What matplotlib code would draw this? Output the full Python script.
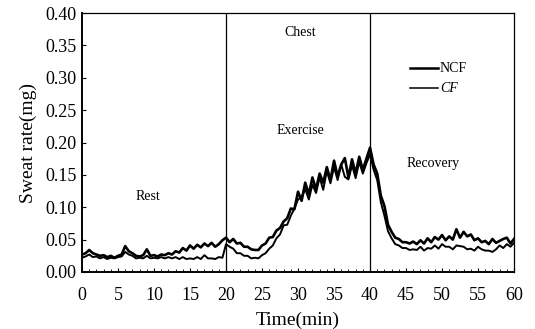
import matplotlib
matplotlib.use('Agg')
import matplotlib.pyplot as plt
from matplotlib.ticker import MultipleLocator
import numpy as np

# time axis, 0.5 min steps
time_min = [i * 0.5 for i in range(121)]

ncf = [0.027, 0.029, 0.034, 0.029, 0.027, 0.025, 0.026, 0.023, 0.025, 0.022,
       0.025, 0.027, 0.040, 0.032, 0.029, 0.025, 0.024, 0.026, 0.035, 0.025,
       0.026, 0.024, 0.027, 0.026, 0.029, 0.027, 0.032, 0.030, 0.037, 0.033,
       0.041, 0.036, 0.042, 0.038, 0.044, 0.040, 0.045, 0.039, 0.043, 0.049,
       0.053, 0.046, 0.051, 0.044, 0.045, 0.039, 0.039, 0.035, 0.034, 0.034,
       0.041, 0.044, 0.053, 0.054, 0.064, 0.068, 0.078, 0.083, 0.098, 0.097,
       0.124, 0.110, 0.138, 0.120, 0.146, 0.128, 0.152, 0.138, 0.162, 0.142,
       0.172, 0.148, 0.166, 0.176, 0.146, 0.174, 0.152, 0.178, 0.158, 0.175,
       0.192, 0.166, 0.152, 0.118, 0.102, 0.073, 0.062, 0.053, 0.051, 0.046,
       0.046, 0.044, 0.047, 0.043, 0.049, 0.044, 0.052, 0.046, 0.054, 0.050,
       0.057, 0.049, 0.055, 0.050, 0.066, 0.053, 0.062, 0.055, 0.058, 0.049,
       0.052, 0.046, 0.048, 0.043, 0.051, 0.045, 0.048, 0.051, 0.053, 0.044,
       0.051]

cf = [0.022, 0.024, 0.027, 0.023, 0.024, 0.021, 0.023, 0.020, 0.022, 0.021,
      0.023, 0.024, 0.031, 0.027, 0.025, 0.021, 0.022, 0.021, 0.025, 0.021,
      0.022, 0.021, 0.023, 0.021, 0.023, 0.021, 0.023, 0.020, 0.023, 0.020,
      0.021, 0.020, 0.023, 0.020, 0.026, 0.021, 0.021, 0.020, 0.023, 0.022,
      0.043, 0.039, 0.036, 0.029, 0.029, 0.025, 0.025, 0.021, 0.022, 0.021,
      0.026, 0.029, 0.036, 0.041, 0.052, 0.058, 0.072, 0.073, 0.087, 0.098,
      0.112, 0.116, 0.128, 0.112, 0.135, 0.122, 0.146, 0.127, 0.156, 0.137,
      0.162, 0.142, 0.166, 0.147, 0.143, 0.165, 0.145, 0.170, 0.152, 0.168,
      0.182, 0.158, 0.142, 0.108, 0.087, 0.063, 0.052, 0.043, 0.041, 0.037,
      0.037, 0.034, 0.035, 0.034, 0.039, 0.033, 0.037, 0.036, 0.041, 0.036,
      0.043, 0.039, 0.039, 0.035, 0.041, 0.040, 0.039, 0.035, 0.036, 0.033,
      0.039, 0.035, 0.033, 0.033, 0.031, 0.035, 0.041, 0.037, 0.043, 0.039,
      0.045]

phase_lines = [20, 40]

plt.rcParams['font.family'] = 'Liberation Serif'

fig = plt.figure(figsize=(5.35, 3.29), dpi=100)
ax = fig.add_axes([0.1533, 0.1733, 0.8075, 0.787])

ax.plot(time_min, ncf, color='black', lw=1.9)
ax.plot(time_min, cf, color='black', lw=1.4)
for x in phase_lines:
    ax.axvline(x, color='black', lw=0.9)

ax.set_xlim(0, 60)
ax.set_ylim(0, 0.40)
ax.xaxis.set_major_locator(MultipleLocator(5))
ax.xaxis.set_minor_locator(MultipleLocator(1))
ax.yaxis.set_major_locator(MultipleLocator(0.05))
ax.yaxis.set_major_formatter(matplotlib.ticker.FormatStrFormatter('%.2f'))
ax.tick_params(axis='both', which='both', direction='in', labelsize=13)
ax.tick_params(which='major', length=3)
ax.tick_params(which='minor', length=2)
ax.tick_params(axis='x', pad=11)
ax.tick_params(axis='y', pad=4)

for s in ['left', 'bottom']:
    ax.spines[s].set_linewidth(1.4)
for s in ['top', 'right']:
    ax.spines[s].set_linewidth(0.9)

ax.set_xlabel('Time(min)', fontsize=14, labelpad=5)
ax.set_ylabel('Sweat rate(mg)', fontsize=14, labelpad=6)

ax.text(9.2, 0.117, 'Rest', fontsize=10, ha='center', va='center')
ax.text(30.3, 0.37, 'Chest', fontsize=10, ha='center', va='center')
ax.text(30.3, 0.219, 'Exercise', fontsize=10, ha='center', va='center')
ax.text(48.8, 0.168, 'Recovery', fontsize=10, ha='center', va='center')

ax.plot([45.5, 49.5], [0.315, 0.315], color='black', lw=1.8)
ax.text(49.7, 0.315, 'NCF', fontsize=10, va='center')
ax.plot([45.5, 49.5], [0.284, 0.284], color='black', lw=1.1)
ax.text(49.7, 0.284, 'CF', fontsize=10, va='center', style='italic')

fig.savefig('out.png', dpi=100)
